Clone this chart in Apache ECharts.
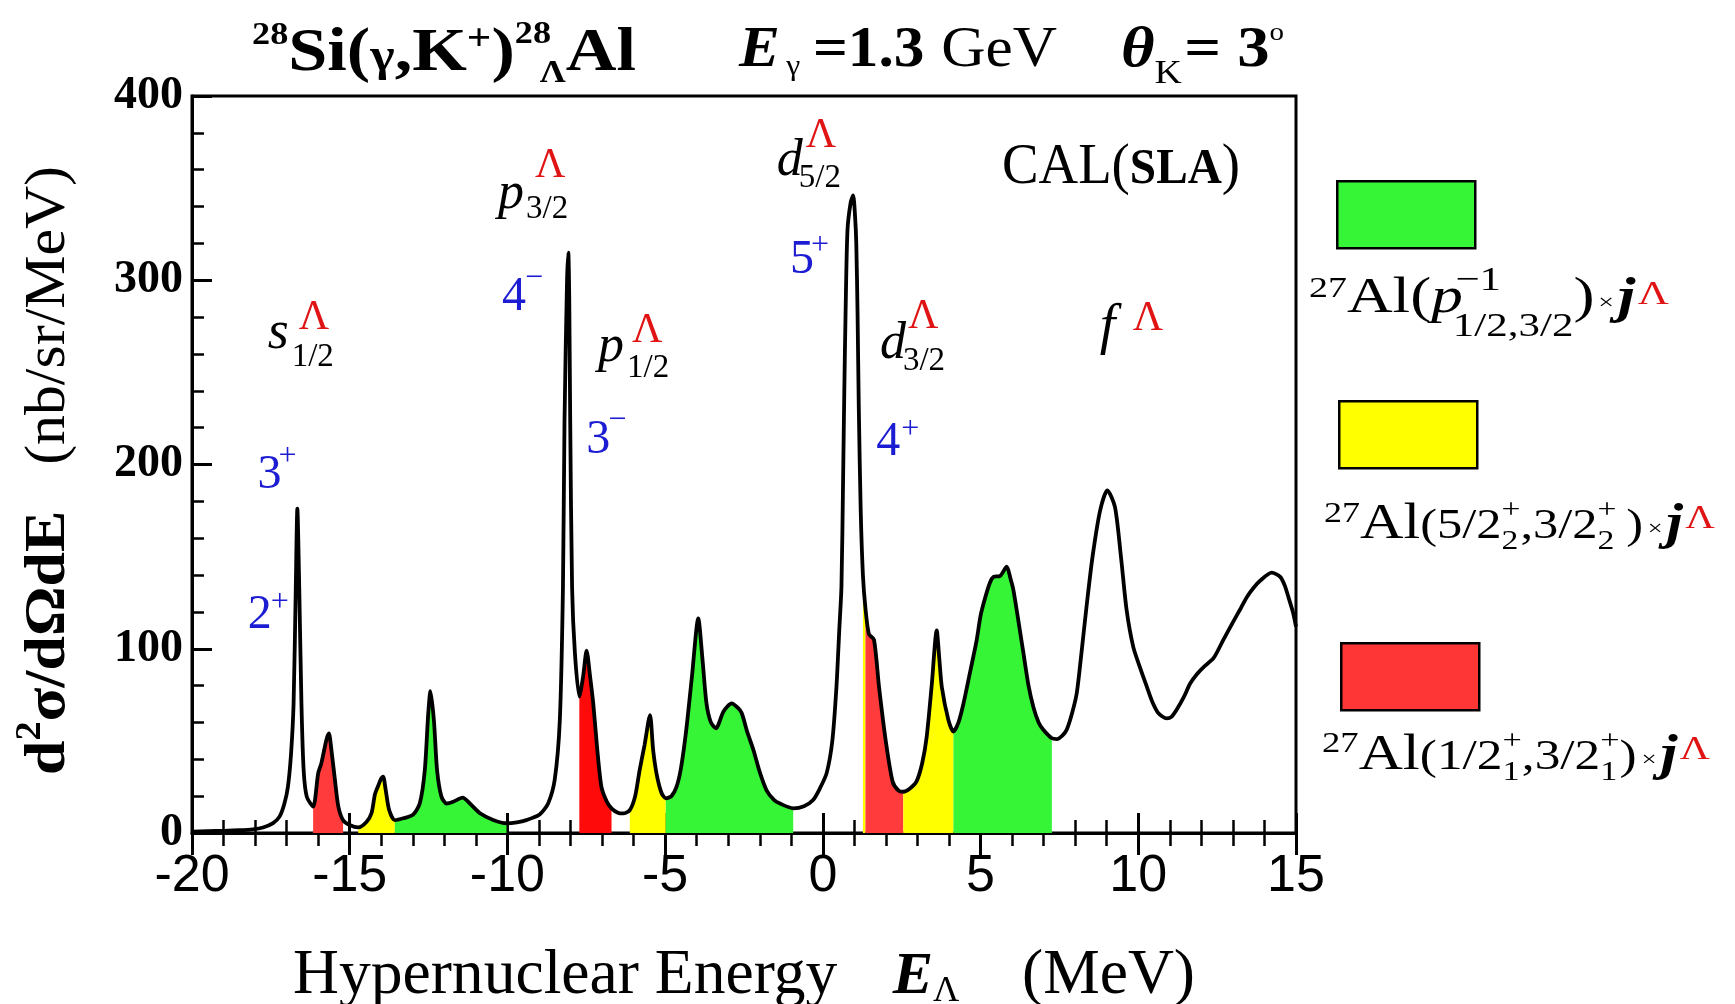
<!DOCTYPE html>
<html>
<head>
<meta charset="utf-8">
<script src="https://cdn.jsdelivr.net/npm/echarts@6/dist/echarts.min.js"></script>
<style>
  html, body { margin: 0; padding: 0; background: #fff; }
  #chart { width: 1735px; height: 1004px; }
</style>
</head>
<body>
<div id="chart"></div>
<script>
// Hypernuclear energy E_Lambda (MeV)
const energy = [
  -20.0, -19.5, -19.0, -18.5, -18.07, -17.75, -17.43, -17.22, -17.07, -16.96,
  -16.86, -16.78, -16.71, -16.66, -16.60, -16.53, -16.46, -16.36, -16.16, -16.00,
  -15.90, -15.74, -15.66, -15.58, -15.47, -15.36, -15.21, -15.00, -14.73, -14.47,
  -14.31, -14.20, -14.10, -14.00, -13.94, -13.86, -13.75, -13.57, -13.30, -12.99,
  -12.78, -12.62, -12.51, -12.44, -12.33, -12.23, -12.09, -11.93, -11.72, -11.42,
  -11.19, -10.87, -10.45, -10.03, -9.70, -9.40, -8.98, -8.71, -8.50, -8.34,
  -8.24, -8.19, -8.11, -8.07, -8.04, -8.01, -7.95, -7.86, -7.72, -7.60,
  -7.49, -7.38, -7.28, -7.15, -7.02, -6.85, -6.70, -6.50, -6.33, -6.12,
  -5.95, -5.81, -5.65, -5.48, -5.38, -5.27, -5.12, -4.98, -4.80, -4.64,
  -4.50, -4.33, -4.15, -3.95, -3.82, -3.69, -3.55, -3.39, -3.15, -2.89,
  -2.70, -2.57, -2.40, -2.20, -2.00, -1.78, -1.55, -1.36, -0.94, -0.60,
  -0.31, -0.10, 0.12, 0.30, 0.43, 0.52, 0.59, 0.64, 0.68, 0.72,
  0.78, 0.88, 0.96, 1.02, 1.06, 1.10, 1.14, 1.20, 1.27, 1.35,
  1.46, 1.62, 1.78, 1.99, 2.21, 2.40, 2.55, 2.75, 2.97, 3.15,
  3.29, 3.45, 3.61, 3.69, 3.77, 3.98, 4.14, 4.30, 4.46, 4.70,
  4.88, 5.00, 5.15, 5.30, 5.41, 5.62, 5.83, 5.95, 6.04, 6.20,
  6.36, 6.52, 6.68, 6.84, 6.99, 7.26, 7.42, 7.60, 7.73, 7.90,
  8.05, 8.20, 8.36, 8.55, 8.79, 9.02, 9.26, 9.45, 9.63, 9.84,
  10.05, 10.27, 10.45, 10.64, 10.90, 11.05, 11.22, 11.45, 11.64, 11.85,
  12.07, 12.39, 12.70, 13.02, 13.25, 13.44, 13.65, 13.87, 14.23, 14.50,
  14.65, 14.76, 14.90, 15.00
];

// d2sigma/dOmega dE (nb/sr/MeV)
const crossSection = [
  0.8, 1.0, 1.2, 1.5, 2.0, 3.0, 5.4, 9.0, 16, 25,
  43, 70, 133, 176, 133, 70, 34, 19.6, 14.3, 32.4,
  37.8, 50.5, 54, 45, 29, 14.3, 6.9, 4.3, 3.0, 6,
  10.7, 21, 25.5, 29.6, 30.6, 23.4, 12.5, 7.0, 8.0, 10,
  16, 34, 65, 77, 61, 34, 19.6, 16, 17, 19.2,
  16, 10.7, 7.1, 5.3, 5.8, 7.0, 10, 16, 29, 61,
  133, 224, 300, 315, 290, 224, 133, 97.5, 74, 85,
  99, 85, 70.4, 45, 25, 17, 13.4, 11, 10.6, 12.4,
  20, 34, 48, 64, 45, 32, 22, 18.8, 20, 25,
  35, 56, 85, 116.5, 95, 70.4, 60, 56.8, 66, 70.4,
  68, 65, 55, 45, 33, 23, 18, 16, 13.4, 14.5,
  17.9, 24, 32.5, 50, 79, 110, 134, 190, 240, 282,
  327, 342, 346, 335, 320, 282, 230, 175, 140, 122,
  108, 105, 79.4, 50.5, 28, 23, 22.4, 24, 28, 38,
  52, 80, 110, 95, 79.4, 61.3, 55, 60, 70.4, 90,
  105, 118, 128, 136, 139, 139.5, 144.5, 138, 132, 115,
  97.5, 80, 68, 60, 56, 51.4, 51, 53, 56, 65,
  76, 98, 123, 150, 175, 186, 177, 150, 121, 101,
  90, 79.4, 71, 65, 62.2, 63, 67, 74, 81, 86,
  90, 95, 105, 115, 122, 128, 133, 137, 141.3, 139,
  134, 128, 120, 112
];

// Shaded contributions of the core states (energy ranges)
const regionStart = [-16.16, -14.73, -13.57, -7.72, -6.12, -4.98, 1.27, 1.35, 2.55, 4.14];
const regionEnd   = [-15.21, -13.57, -10.03, -6.70, -4.98, -0.94, 1.35, 2.55, 4.14, 7.26];
const regionCore  = [2, 1, 0, 2, 1, 0, 1, 2, 1, 0];   // 0: p-hole, 1: 5/2+,3/2+ (2), 2: 1/2+,3/2+ (1)

const coreNames  = ['27Al(p-1)', '27Al(5/2+,3/2+)2', '27Al(1/2+,3/2+)1'];
const coreColors = ['#36f536', '#ffff00', '#ff3636'];
const regionColors = ['#ff3b3b', '#ffff00', '#36f536', '#ff0a0a', '#ffff00', '#36f536', '#ffff00', '#ff3b3b', '#ffff00', '#36f536'];

const X_MIN = -20, X_MAX = 15, X_STEP = 5;
const Y_MIN = 0, Y_MAX = 400, Y_STEP = 100;

const SERIF = '"Liberation Serif", "DejaVu Serif", serif';
const SANS = '"Liberation Sans", "DejaVu Sans", sans-serif';
const RED = '#e01414';
const BLUE = '#1c1cd2';
const SMOOTH = 0.25;

const curve = energy.map((e, i) => [e, crossSection[i]]);

const chart = echarts.init(document.getElementById('chart'), null, { renderer: 'canvas' });

const fillSeries = regionStart.map((a, k) => ({
  type: 'line',
  name: coreNames[regionCore[k]],
  data: curve.filter(p => p[0] >= a - 1e-9 && p[0] <= regionEnd[k] + 1e-9),
  symbol: 'none',
  smooth: SMOOTH,
  lineStyle: { width: 0 },
  itemStyle: { color: coreColors[regionCore[k]] },
  areaStyle: { color: regionColors[k], opacity: 1 },
  silent: true,
  z: 2
}));

const legendBoxes = [
  { left: 1336, top: 180 },
  { left: 1338, top: 400 },
  { left: 1340, top: 642 }
].map((pos, k) => ({
  show: true,
  data: [coreNames[k]],
  left: pos.left, top: pos.top,
  padding: 0,
  icon: 'rect',
  itemWidth: 138, itemHeight: 67,
  selectedMode: false,
  formatter: () => '',
  itemStyle: { color: coreColors[k], borderColor: '#000', borderWidth: 2.5, opacity: 1 }
}));

const baseXAxis = {
  type: 'value', min: X_MIN, max: X_MAX, interval: X_STEP,
  position: 'bottom', gridIndex: 0,
  splitLine: { show: false }
};

chart.setOption({
  animation: false,
  backgroundColor: '#fff',
  grid: {
    left: 192, right: 439, top: 96, bottom: 171,
    show: true, borderColor: '#000', borderWidth: 3, backgroundColor: 'transparent'
  },
  legend: legendBoxes,
  xAxis: [
    Object.assign({}, baseXAxis, {
      axisLine: { show: true, onZero: false, lineStyle: { color: '#000', width: 3 } },
      axisTick: { show: true, inside: false, length: 22, lineStyle: { color: '#000', width: 3 } },
      minorTick: { show: true, splitNumber: 5, length: 13, lineStyle: { color: '#000', width: 2.5 } },
      axisLabel: { color: '#000', fontFamily: SANS, fontSize: 52, margin: 18 }
    }),
    Object.assign({}, baseXAxis, {
      axisLine: { show: false },
      axisTick: { show: true, inside: true, length: 20, lineStyle: { color: '#000', width: 3 } },
      minorTick: { show: true, splitNumber: 5, length: 13, lineStyle: { color: '#000', width: 2.5 } },
      axisLabel: { show: false }
    })
  ],
  yAxis: {
    type: 'value', min: Y_MIN, max: Y_MAX, interval: Y_STEP,
    splitLine: { show: false },
    axisLine: { show: true, onZero: false, lineStyle: { color: '#000', width: 3 } },
    axisTick: { show: true, inside: true, length: 20, lineStyle: { color: '#000', width: 3 } },
    minorTick: { show: true, splitNumber: 5, length: 12, lineStyle: { color: '#000', width: 2.5 } },
    axisLabel: { color: '#000', fontFamily: SERIF, fontWeight: 'bold', fontSize: 46, margin: 9 }
  },
  series: fillSeries.concat([{
    type: 'line',
    name: 'CAL(SLA)',
    data: curve,
    symbol: 'none',
    smooth: SMOOTH,
    lineStyle: { color: '#000', width: 3.8 },
    itemStyle: { color: '#000' },
    silent: true,
    z: 3
  }])
});

// ---- text with super/subscripts, laid out run by run ----
const mctx = document.createElement('canvas').getContext('2d');
function cssFont(r) {
  return (r.i ? 'italic ' : '') + (r.b ? 'bold ' : '') + r.s + 'px ' + (r.ff || SERIF);
}
function baselineBelowMiddle(font) {
  mctx.font = font; mctx.textBaseline = 'middle';
  return mctx.measureText('H').actualBoundingBoxDescent;
}
function advance(t, font) {
  mctx.font = font; mctx.textBaseline = 'alphabetic';
  return mctx.measureText(t).width;
}
function mathRuns(runs, fit) {
  let pen = 0, anchorX = 0;
  const items = runs.map(r => {
    const font = cssFont(r);
    const w = advance(r.t, font);
    const x = (r.x !== undefined) ? r.x : ((r.same ? anchorX : pen) + (r.dx || 0));
    if (!r.same) anchorX = x;
    pen = Math.max(pen, x + w);
    return { r, font, x };
  });
  const k = fit ? fit / pen : 1;
  return items.map(({ r, font, x }) => ({
    type: 'text',
    x: x * k,
    y: (r.dy || 0) - baselineBelowMiddle(font),
    scaleX: k,
    silent: true,
    style: { text: r.t, font: font, fill: r.c || '#000', align: 'left', verticalAlign: 'middle' }
  }));
}
function mathText(x0, y0, runs, fit, extra) {
  return Object.assign({ type: 'group', x: x0, y: y0, silent: true, children: mathRuns(runs, fit) }, extra || {});
}

// Annotations placed in data coordinates (anchor = left end of the baseline)
const annotations = [
  { at: [-17.60, 263], runs: [{ t: 's', s: 54, i: 1 }, { t: '1/2', s: 33, x: 24, dy: 18 }, { t: 'Λ', s: 42, x: 31, dy: -19, c: RED }] },
  { at: [-10.30, 339], runs: [{ t: 'p', s: 52, i: 1 }, { t: '3/2', s: 33, x: 28, dy: 10 }, { t: 'Λ', s: 42, x: 37, dy: -31, c: RED }] },
  { at: [-7.13, 256], runs: [{ t: 'p', s: 52, i: 1 }, { t: '1/2', s: 33, x: 29, dy: 16 }, { t: 'Λ', s: 42, x: 34, dy: -19, c: RED }] },
  { at: [-1.46, 357], runs: [{ t: 'd', s: 52, i: 1 }, { t: '5/2', s: 33, x: 22, dy: 12 }, { t: 'Λ', s: 42, x: 29, dy: -28, c: RED }] },
  { at: [1.81, 258], runs: [{ t: 'd', s: 52, i: 1 }, { t: '3/2', s: 33, x: 23, dy: 12 }, { t: 'Λ', s: 42, x: 28, dy: -30, c: RED }] },
  { at: [8.78, 266], runs: [{ t: 'f', s: 56, i: 1 }, { t: 'Λ', s: 42, x: 33, dy: -13, c: RED }] },
  { at: [5.68, 353], fit: 238, runs: [{ t: 'CAL(', s: 58 }, { t: 'SLA', s: 50, b: 1 }, { t: ')', s: 58 }] },
  { at: [-17.92, 187], runs: [{ t: '3', s: 48, c: BLUE }, { t: '+', s: 32, x: 21, dy: -23, c: BLUE }] },
  { at: [-18.23, 111], runs: [{ t: '2', s: 48, c: BLUE }, { t: '+', s: 32, x: 23, dy: -17, c: BLUE }] },
  { at: [-10.17, 284], runs: [{ t: '4', s: 48, c: BLUE }, { t: '−', s: 32, x: 23, dy: -23, c: BLUE }] },
  { at: [-7.50, 206], runs: [{ t: '3', s: 48, c: BLUE }, { t: '−', s: 32, x: 22, dy: -24, c: BLUE }] },
  { at: [-1.04, 304], runs: [{ t: '5', s: 48, c: BLUE }, { t: '+', s: 32, x: 21, dy: -19, c: BLUE }] },
  { at: [1.69, 205], runs: [{ t: '4', s: 48, c: BLUE }, { t: '+', s: 32, x: 25, dy: -17, c: BLUE }] }
];

const graphics = annotations.map(a => {
  const p = chart.convertToPixel({ gridIndex: 0 }, a.at);
  return mathText(p[0], p[1], a.runs, a.fit);
});

// Title line
graphics.push(mathText(252, 70, [
  { t: '28', s: 32, b: 1, dy: -26 },
  { t: 'Si(', s: 62, b: 1 },
  { t: 'γ', s: 46, b: 1 },
  { t: ',K', s: 62, b: 1 },
  { t: '+', s: 38, b: 1, dy: -20 },
  { t: ')', s: 62, b: 1 },
  { t: '28', s: 32, b: 1, dy: -27 },
  { t: 'Λ', s: 32, b: 1, dy: 12, same: 1, dx: 22 },
  { t: 'Al', s: 62, b: 1 }
], 384));
graphics.push(mathText(739, 66, [
  { t: 'E', s: 58, b: 1, i: 1 },
  { t: 'γ', s: 30, dy: 9, dx: 6 },
  { t: '=1.3', s: 58, b: 1, dx: 12 },
  { t: 'GeV', s: 58, dx: 16 }
], 318));
graphics.push(mathText(1121, 66, [
  { t: 'θ', s: 58, b: 1, i: 1 },
  { t: 'K', s: 34, dy: 17 },
  { t: '= 3', s: 58, b: 1, dx: 2 },
  { t: 'o', s: 26, dy: -26 }
], 163));

// Axis titles
graphics.push(mathText(293, 993, [
  { t: 'Hypernuclear Energy', s: 63 },
  { t: 'E', s: 60, b: 1, i: 1, dx: 55 },
  { t: 'Λ', s: 36, dy: 8 },
  { t: '(MeV)', s: 63, dx: 62 }
], 902));
graphics.push(mathText(64, 775, [
  { t: 'd', s: 58, b: 1 },
  { t: '2', s: 36, b: 1, dy: -24 },
  { t: 'σ/dΩdE', s: 58, b: 1 },
  { t: '(nb/sr/MeV)', s: 56, dx: 43 }
], 609, { rotation: Math.PI / 2 }));

// Legend captions
graphics.push(mathText(1309, 312, [
  { t: '27', s: 30, dy: -15 },
  { t: 'Al(', s: 50 },
  { t: 'p', s: 50, i: 1 },
  { t: '1/2,3/2', s: 34, dy: 24, dx: -8 },
  { t: '−1', s: 34, dy: -22, same: 1, dx: 2 },
  { t: ')', s: 50 },
  { t: '×', s: 22, dx: 3, dy: -3 },
  { t: 'j', s: 50, b: 1, i: 1, dx: 3 },
  { t: 'Λ', s: 34, dy: -8, dx: 2, c: RED }
], 360));
graphics.push(mathText(1324, 538, [
  { t: '27', s: 30, dy: -16 },
  { t: 'Al', s: 50 },
  { t: '(5/2', s: 42 },
  { t: '2', s: 28, dy: 11 },
  { t: '+', s: 28, dy: -20, same: 1 },
  { t: ',3/2', s: 42 },
  { t: '2', s: 28, dy: 11 },
  { t: '+', s: 28, dy: -20, same: 1 },
  { t: ')', s: 42, dx: 8 },
  { t: '×', s: 22, dx: 4, dy: -3 },
  { t: 'j', s: 50, b: 1, i: 1, dx: 3 },
  { t: 'Λ', s: 34, dy: -10, dx: 2, c: RED }
], 391));
graphics.push(mathText(1322, 769, [
  { t: '27', s: 30, dy: -17 },
  { t: 'Al', s: 50 },
  { t: '(1/2', s: 42 },
  { t: '1', s: 28, dy: 11 },
  { t: '+', s: 28, dy: -20, same: 1 },
  { t: ',3/2', s: 42 },
  { t: '1', s: 28, dy: 11 },
  { t: '+', s: 28, dy: -20, same: 1 },
  { t: ')', s: 42 },
  { t: '×', s: 22, dx: 4, dy: -3 },
  { t: 'j', s: 50, b: 1, i: 1, dx: 3 },
  { t: 'Λ', s: 34, dy: -10, dx: 2, c: RED }
], 388));

chart.setOption({ graphic: graphics });
</script>
</body>
</html>
